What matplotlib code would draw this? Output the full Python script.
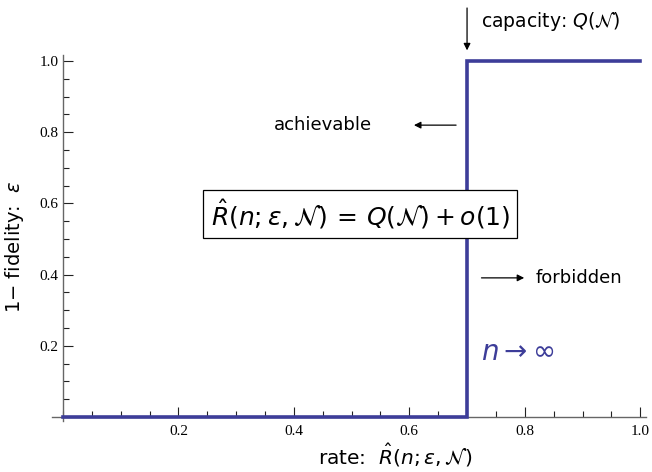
import matplotlib
matplotlib.use('Agg')
import matplotlib.pyplot as plt
from matplotlib.ticker import MultipleLocator, FixedLocator

plt.rcParams['mathtext.fontset'] = 'dejavusans'
plt.rcParams['font.family'] = 'DejaVu Sans'

# step curve for n -> infinity
rate = [0.0, 0.7, 0.7, 1.0]
eps = [0.0, 0.0, 1.0, 1.0]
capacity = 0.7

major_ticks = [0.2, 0.4, 0.6, 0.8, 1.0]
tick_labels = ['0.2', '0.4', '0.6', '0.8', '1.0']

blue = '#3d3d99'
axis_col = '#666666'

fig = plt.figure(figsize=(6.52, 4.72), dpi=100)
ax = fig.add_axes([52 / 652, 51 / 472, 594 / 652, 366 / 472])

ax.plot(rate, eps, color=blue, lw=2.6, solid_joinstyle='miter', zorder=3)

ax.set_xlim(-0.019, 1.01)
ax.set_ylim(-0.011, 1.017)

for s in ['top', 'right']:
    ax.spines[s].set_visible(False)
ax.spines['left'].set_position(('data', 0))
ax.spines['bottom'].set_position(('data', 0))
for s in ['left', 'bottom']:
    ax.spines[s].set_color(axis_col)
    ax.spines[s].set_linewidth(1.0)

ax.xaxis.set_major_locator(FixedLocator(major_ticks))
ax.yaxis.set_major_locator(FixedLocator(major_ticks))
ax.xaxis.set_minor_locator(MultipleLocator(0.05))
ax.yaxis.set_minor_locator(MultipleLocator(0.05))
ax.set_xticklabels(tick_labels, family='Liberation Serif', fontsize=11)
ax.set_yticklabels(tick_labels, family='Liberation Serif', fontsize=11)
ax.tick_params(which='major', direction='in', length=7, width=0.8, color='#222222')
ax.tick_params(which='minor', direction='in', length=4, width=0.8, color='#222222')
ax.tick_params(axis='x', which='major', pad=6)
ax.tick_params(axis='y', which='major', pad=3)

# labels
fig.text(15 / 652, 1 - 247 / 472, r'1$-$ fidelity:  $\varepsilon$', rotation=90,
         ha='center', va='center', fontsize=14)
fig.text(395 / 652, 1 - 455 / 472, r'rate:  $\hat{R}(n;\varepsilon,\mathcal{N})$',
         ha='center', va='center', fontsize=14.5)

# annotations
arrow = dict(arrowstyle='-|>', color='black', lw=0.9, mutation_scale=10,
             shrinkA=0, shrinkB=0)
ax.annotate('', xy=(capacity, 1.03), xytext=(capacity, 1.149),
            arrowprops=arrow, annotation_clip=False)
ax.text(0.725, 1.11, r'capacity: $Q(\mathcal{N})$', fontsize=13.5, va='center', ha='left')

ax.annotate('', xy=(0.608, 0.82), xytext=(0.681, 0.82), arrowprops=arrow)
ax.text(0.5355, 0.82, 'achievable', fontsize=13, va='center', ha='right')

ax.annotate('', xy=(0.799, 0.391), xytext=(0.725, 0.391), arrowprops=arrow)
ax.text(0.818, 0.391, 'forbidden', fontsize=13, va='center', ha='left')

ax.text(0.724, 0.182, r'$n \rightarrow \infty$', color=blue, fontsize=20,
        va='center', ha='left')

ax.text(0.515, 0.570, r'$\hat{R}(n;\varepsilon,\mathcal{N})\,=\,Q(\mathcal{N})+o(1)$',
        fontsize=18, va='center', ha='center',
        bbox=dict(boxstyle='square,pad=0.3', fc='white', ec='black', lw=0.9),
        zorder=4)

fig.savefig('out.png', dpi=100)
